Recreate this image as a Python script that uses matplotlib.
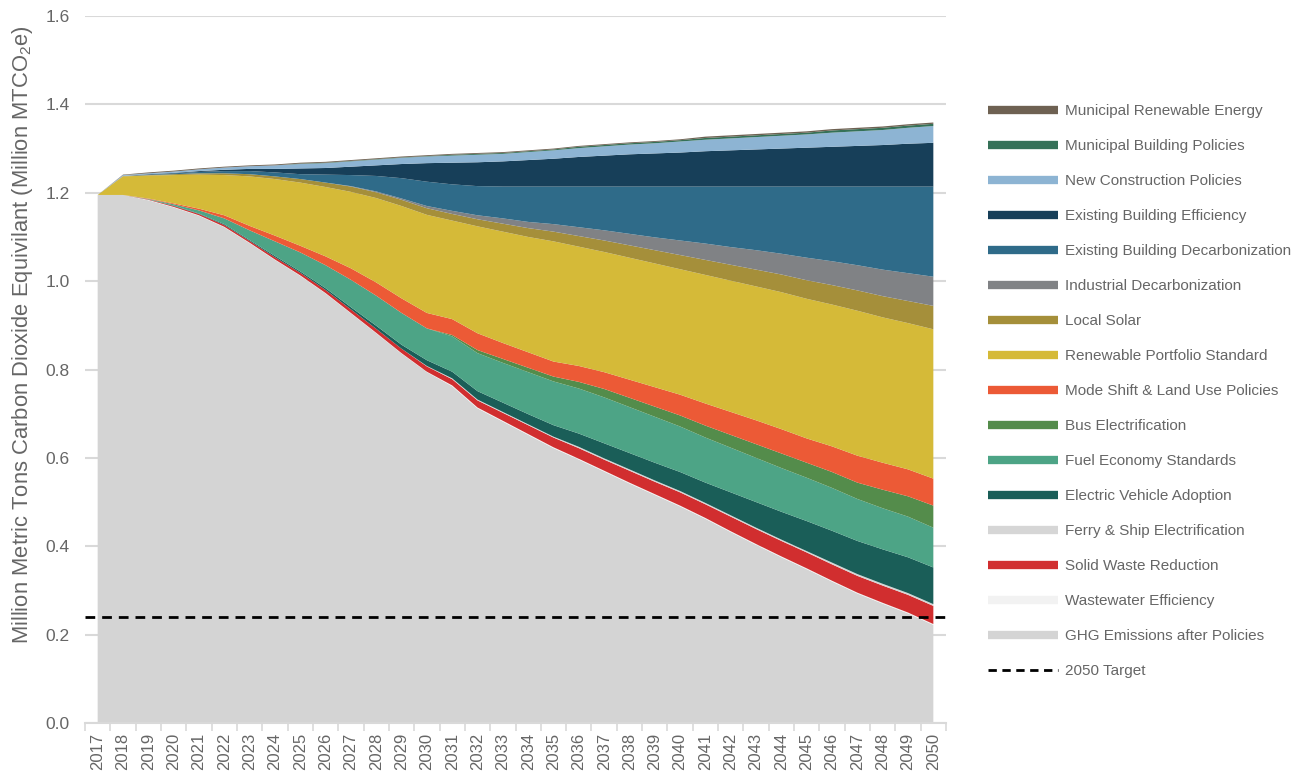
import matplotlib
matplotlib.use("Agg")
import matplotlib.pyplot as plt
from matplotlib.lines import Line2D
import numpy as np

years = list(range(2017, 2051))

ghg_after = [1.195, 1.195, 1.183, 1.167, 1.148, 1.122, 1.086, 1.048, 1.012, 0.972, 0.927, 0.882,
             0.836, 0.794, 0.762, 0.712, 0.682, 0.652, 0.622, 0.596, 0.569, 0.542, 0.516, 0.490,
             0.462, 0.432, 0.403, 0.375, 0.348, 0.320, 0.293, 0.270, 0.248, 0.222]
wastewater = [0, 0, 0.001, 0.001, 0.001, 0.001, 0.001, 0.001, 0.001, 0.001, 0.001, 0.001,
              0.001, 0.001, 0.002, 0.002, 0.002, 0.002, 0.002, 0.002, 0.002, 0.002, 0.002, 0.002,
              0.002, 0.002, 0.002, 0.002, 0.002, 0.002, 0.002, 0.002, 0.002, 0.002]
solid_waste = [0, 0, 0.001, 0.002, 0.003, 0.004, 0.004, 0.005, 0.006, 0.007, 0.008, 0.009,
               0.010, 0.012, 0.014, 0.016, 0.018, 0.020, 0.022, 0.024, 0.025, 0.027, 0.028, 0.030,
               0.031, 0.033, 0.034, 0.035, 0.036, 0.037, 0.038, 0.039, 0.040, 0.041]
ferry = [0, 0, 0, 0, 0, 0, 0, 0, 0, 0, 0, 0,
         0, 0.001, 0.002, 0.002, 0.002, 0.002, 0.002, 0.003, 0.003, 0.003, 0.003, 0.003,
         0.003, 0.003, 0.003, 0.003, 0.003, 0.004, 0.004, 0.004, 0.004, 0.004]
ev_adoption = [0, 0, 0, 0.001, 0.001, 0.002, 0.002, 0.003, 0.003, 0.004, 0.005, 0.007,
               0.009, 0.013, 0.015, 0.019, 0.021, 0.023, 0.026, 0.030, 0.034, 0.037, 0.040, 0.043,
               0.046, 0.052, 0.058, 0.063, 0.068, 0.072, 0.075, 0.078, 0.081, 0.083]
fuel_economy = [0, 0, 0.001, 0.003, 0.007, 0.013, 0.022, 0.033, 0.043, 0.052, 0.062, 0.068,
                0.072, 0.072, 0.080, 0.086, 0.090, 0.095, 0.099, 0.102, 0.104, 0.104, 0.104, 0.103,
                0.102, 0.101, 0.100, 0.099, 0.098, 0.097, 0.095, 0.093, 0.092, 0.090]
bus = [0, 0, 0, 0, 0, 0, 0, 0, 0, 0, 0, 0,
       0, 0, 0.003, 0.007, 0.009, 0.010, 0.011, 0.015, 0.019, 0.021, 0.023, 0.025,
       0.027, 0.029, 0.031, 0.033, 0.034, 0.036, 0.037, 0.042, 0.046, 0.050]
mode_shift = [0, 0, 0.001, 0.002, 0.004, 0.007, 0.010, 0.013, 0.015, 0.020, 0.026, 0.030,
              0.033, 0.035, 0.036, 0.038, 0.036, 0.035, 0.034, 0.036, 0.038, 0.041, 0.044, 0.047,
              0.050, 0.052, 0.054, 0.055, 0.055, 0.058, 0.061, 0.061, 0.061, 0.061]
rps = [0, 0.042, 0.052, 0.064, 0.077, 0.091, 0.112, 0.128, 0.143, 0.157, 0.173, 0.191,
       0.209, 0.222, 0.223, 0.242, 0.252, 0.261, 0.272, 0.270, 0.272, 0.276, 0.280, 0.284,
       0.291, 0.297, 0.303, 0.310, 0.316, 0.321, 0.328, 0.329, 0.331, 0.338]
local_solar = [0, 0.001, 0.001, 0.002, 0.003, 0.004, 0.005, 0.006, 0.008, 0.010, 0.012, 0.013,
               0.014, 0.015, 0.015, 0.016, 0.018, 0.020, 0.022, 0.024, 0.026, 0.028, 0.030, 0.032,
               0.034, 0.036, 0.038, 0.040, 0.042, 0.044, 0.046, 0.048, 0.050, 0.053]
industrial = [0, 0, 0, 0, 0, 0, 0, 0, 0, 0, 0.001, 0.002,
              0.003, 0.005, 0.007, 0.009, 0.012, 0.014, 0.017, 0.020, 0.023, 0.026, 0.029, 0.033,
              0.037, 0.040, 0.044, 0.047, 0.051, 0.054, 0.057, 0.060, 0.063, 0.066]
exist_decarb = [0, 0, 0.001, 0.002, 0.003, 0.005, 0.007, 0.009, 0.011, 0.018, 0.025, 0.035,
                0.046, 0.055, 0.060, 0.066, 0.072, 0.080, 0.085, 0.092, 0.099, 0.107, 0.115, 0.122,
                0.129, 0.137, 0.144, 0.152, 0.161, 0.169, 0.178, 0.188, 0.196, 0.204]
exist_eff = [0, 0, 0.001, 0.001, 0.002, 0.003, 0.005, 0.008, 0.013, 0.015, 0.019, 0.024,
             0.032, 0.042, 0.049, 0.054, 0.057, 0.060, 0.063, 0.067, 0.070, 0.073, 0.075, 0.077,
             0.080, 0.082, 0.084, 0.086, 0.088, 0.090, 0.092, 0.094, 0.097, 0.099]
new_construction = [0, 0.002, 0.002, 0.003, 0.004, 0.005, 0.006, 0.008, 0.010, 0.011, 0.012, 0.013,
                    0.014, 0.015, 0.016, 0.017, 0.017, 0.018, 0.019, 0.020, 0.021, 0.022, 0.023, 0.025,
                    0.026, 0.027, 0.028, 0.029, 0.030, 0.032, 0.033, 0.034, 0.036, 0.038]
muni_building = [0, 0, 0, 0, 0, 0, 0, 0, 0.001, 0.001, 0.001, 0.001,
                 0.001, 0.001, 0.002, 0.002, 0.002, 0.002, 0.002, 0.003, 0.003, 0.003, 0.003, 0.003,
                 0.004, 0.004, 0.004, 0.004, 0.004, 0.005, 0.005, 0.005, 0.005, 0.005]
muni_renewable = [0, 0.001, 0.002, 0.002, 0.002, 0.002, 0.002, 0.002, 0.002, 0.002, 0.002, 0.002,
                  0.002, 0.002, 0.002, 0.002, 0.002, 0.002, 0.002, 0.002, 0.002, 0.002, 0.002, 0.002,
                  0.003, 0.003, 0.003, 0.003, 0.003, 0.003, 0.003, 0.003, 0.003, 0.003]
target_2050 = 0.24

# stacking order bottom -> top
series = [
    ("GHG Emissions after Policies", ghg_after, "#d4d4d4"),
    ("Wastewater Efficiency", wastewater, "#f2f2f2"),
    ("Solid Waste Reduction", solid_waste, "#d12e2f"),
    ("Ferry & Ship Electrification", ferry, "#d6d6d6"),
    ("Electric Vehicle Adoption", ev_adoption, "#1a5e58"),
    ("Fuel Economy Standards", fuel_economy, "#4da486"),
    ("Bus Electrification", bus, "#548c4b"),
    ("Mode Shift & Land Use Policies", mode_shift, "#ec5a36"),
    ("Renewable Portfolio Standard", rps, "#d5ba38"),
    ("Local Solar", local_solar, "#a58f3a"),
    ("Industrial Decarbonization", industrial, "#808285"),
    ("Existing Building Decarbonization", exist_decarb, "#2f6b89"),
    ("Existing Building Efficiency", exist_eff, "#173f59"),
    ("New Construction Policies", new_construction, "#8db4d3"),
    ("Municipal Building Policies", muni_building, "#357158"),
    ("Municipal Renewable Energy", muni_renewable, "#6e6152"),
]

plt.rcParams['font.family'] = ['Liberation Sans', 'DejaVu Sans']
plt.rcParams['mathtext.fontset'] = 'custom'
plt.rcParams['mathtext.rm'] = 'Liberation Sans'
plt.rcParams['mathtext.it'] = 'Liberation Sans'
txt_color = "#666666"

fig = plt.figure(figsize=(13.06, 7.82), dpi=100)
W, H = 1306, 782
ax = fig.add_axes([85 / W, (H - 723) / H, (946 - 85) / W, (723 - 16) / H])

x = np.arange(len(years))
ax.stackplot(x, *[s[1] for s in series], colors=[s[2] for s in series],
             linewidth=0, antialiased=True, zorder=2)
ax.axhline(target_2050, color="black", linestyle=(0, (3.5, 2.5)), linewidth=2, zorder=3)

ax.set_xlim(-0.5, len(years) - 0.5)
ax.set_ylim(0, 1.6)
ax.set_yticks(np.arange(0, 1.61, 0.2))
ax.set_yticklabels([f"{v:.1f}" for v in np.arange(0, 1.61, 0.2)])
ax.grid(axis="y", color="#d9d9d9", linewidth=1.5, zorder=0)
ax.set_axisbelow(True)

ax.set_xticks(x)
ax.set_xticklabels([str(y) for y in years], rotation=90)
ax.set_xticks(np.arange(-0.5, len(years), 1.0), minor=True)
ax.tick_params(axis="x", which="major", length=0, pad=7, labelsize=12, labelcolor=txt_color)
ax.tick_params(axis="x", which="minor", length=6, width=1.2, color="#d9d9d9")
ax.tick_params(axis="y", length=0, pad=11, labelsize=12.5, labelcolor=txt_color)

for side in ["top", "right", "left"]:
    ax.spines[side].set_visible(False)
ax.spines["bottom"].set_color("#d9d9d9")
ax.spines["bottom"].set_linewidth(1.5)

ax.set_ylabel(r"Million Metric Tons Carbon Dioxide Equivilant (Million MTCO$_2$e)",
              fontsize=15.8, color=txt_color)
ax.yaxis.set_label_coords(-0.0575, 0.549)

handles = []
labels = []
for name, _, col in reversed(series):
    handles.append(Line2D([0], [0], color=col, linewidth=6, solid_capstyle="butt"))
    labels.append(name)
handles.append(Line2D([0], [0], color="black", linewidth=2, linestyle=(0, (3, 2))))
labels.append("2050 Target")

leg = fig.legend(handles, labels, loc="upper left", bbox_to_anchor=(982 / W, 1 - 98 / H),
                 frameon=False, fontsize=11, handlelength=4.6, handletextpad=0.45,
                 labelspacing=1.375, borderaxespad=0)
for t in leg.get_texts():
    t.set_color(txt_color)

fig.savefig("out.png", dpi=100)
